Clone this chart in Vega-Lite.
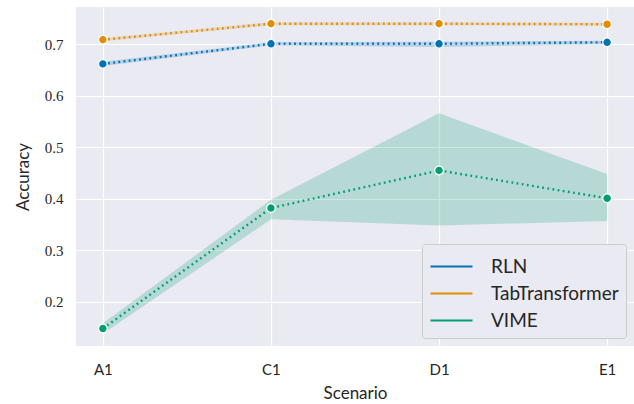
{
  "$schema": "https://vega.github.io/schema/vega-lite/v6.json",
  "width": 558,
  "height": 339,
  "autosize": {"type": "none"},
  "padding": {"left": 76, "top": 7, "right": 0, "bottom": 58},
  "background": "white",
  "config": {
    "view": {"fill": "#eaeaf2", "stroke": null},
    "axis": {"domain": false, "ticks": false, "grid": true, "gridColor": "white", "gridWidth": 1.2,
             "labelColor": "#262626", "titleColor": "#262626", "titleFontWeight": "normal"},
    "legend": {"title": null, "orient": "bottom-right", "offset": 8,
               "symbolType": "M-1,0H2", "symbolSize": 784, "symbolStrokeWidth": 2.2, "symbolDash": [],
               "symbolOpacity": 1, "symbolFillColor": "transparent",
               "labelFont": "Lato", "labelFontSize": 19, "labelColor": "#262626", "labelOffset": 31,
               "rowPadding": 1, "padding": 7, "fillColor": "#eaeaf2",
               "strokeColor": "#cccccc", "cornerRadius": 3}
  },
  "data": {"values": [
    {"Scenario": "A1", "model": "RLN", "acc": 0.662, "lo": 0.658, "hi": 0.666},
    {"Scenario": "C1", "model": "RLN", "acc": 0.701, "lo": 0.698, "hi": 0.704},
    {"Scenario": "D1", "model": "RLN", "acc": 0.701, "lo": 0.695, "hi": 0.705},
    {"Scenario": "E1", "model": "RLN", "acc": 0.704, "lo": 0.700, "hi": 0.707},
    {"Scenario": "A1", "model": "TabTransformer", "acc": 0.709, "lo": 0.706, "hi": 0.712},
    {"Scenario": "C1", "model": "TabTransformer", "acc": 0.740, "lo": 0.737, "hi": 0.743},
    {"Scenario": "D1", "model": "TabTransformer", "acc": 0.740, "lo": 0.737, "hi": 0.743},
    {"Scenario": "E1", "model": "TabTransformer", "acc": 0.739, "lo": 0.736, "hi": 0.742},
    {"Scenario": "A1", "model": "VIME", "acc": 0.148, "lo": 0.138, "hi": 0.158},
    {"Scenario": "C1", "model": "VIME", "acc": 0.382, "lo": 0.360, "hi": 0.398},
    {"Scenario": "D1", "model": "VIME", "acc": 0.455, "lo": 0.348, "hi": 0.566},
    {"Scenario": "E1", "model": "VIME", "acc": 0.401, "lo": 0.357, "hi": 0.448}
  ]},
  "encoding": {
    "x": {"field": "Scenario", "type": "ordinal",
          "scale": {"type": "point", "padding": 0.16},
          "axis": {"labelAngle": 0, "labelFont": "Lato", "labelFontSize": 15, "labelPadding": 16,
                   "title": "Scenario", "titleFont": "Lato", "titleFontSize": 17, "titlePadding": 8}}
  },
  "layer": [
    {
      "mark": {"type": "area", "opacity": 0.22},
      "encoding": {
        "y": {"field": "lo", "type": "quantitative",
              "scale": {"domain": [0.114, 0.7725], "nice": false, "zero": false},
              "axis": {"values": [0.2, 0.3, 0.4, 0.5, 0.6, 0.7], "format": ".1f",
                       "labelFont": "Liberation Serif", "labelFontSize": 15, "labelPadding": 13,
                       "title": "Accuracy", "titleFont": "Lato", "titleFontSize": 17, "titlePadding": 12}},
        "y2": {"field": "hi"},
        "fill": {"field": "model", "type": "nominal",
                 "scale": {"domain": ["RLN", "TabTransformer", "VIME"], "range": ["#0173b2", "#de8f05", "#029e73"]}}
      }
    },
    {
      "mark": {"type": "line", "strokeWidth": 2.4, "strokeDash": [1.8, 3.4]},
      "encoding": {
        "y": {"field": "acc", "type": "quantitative"},
        "stroke": {"field": "model", "type": "nominal",
                   "scale": {"domain": ["RLN", "TabTransformer", "VIME"], "range": ["#0173b2", "#de8f05", "#029e73"]}}
      }
    },
    {
      "mark": {"type": "point", "filled": true, "size": 75, "stroke": "white", "strokeWidth": 1.2, "opacity": 1},
      "encoding": {
        "y": {"field": "acc", "type": "quantitative"},
        "fill": {"field": "model", "type": "nominal"}
      }
    }
  ]
}
